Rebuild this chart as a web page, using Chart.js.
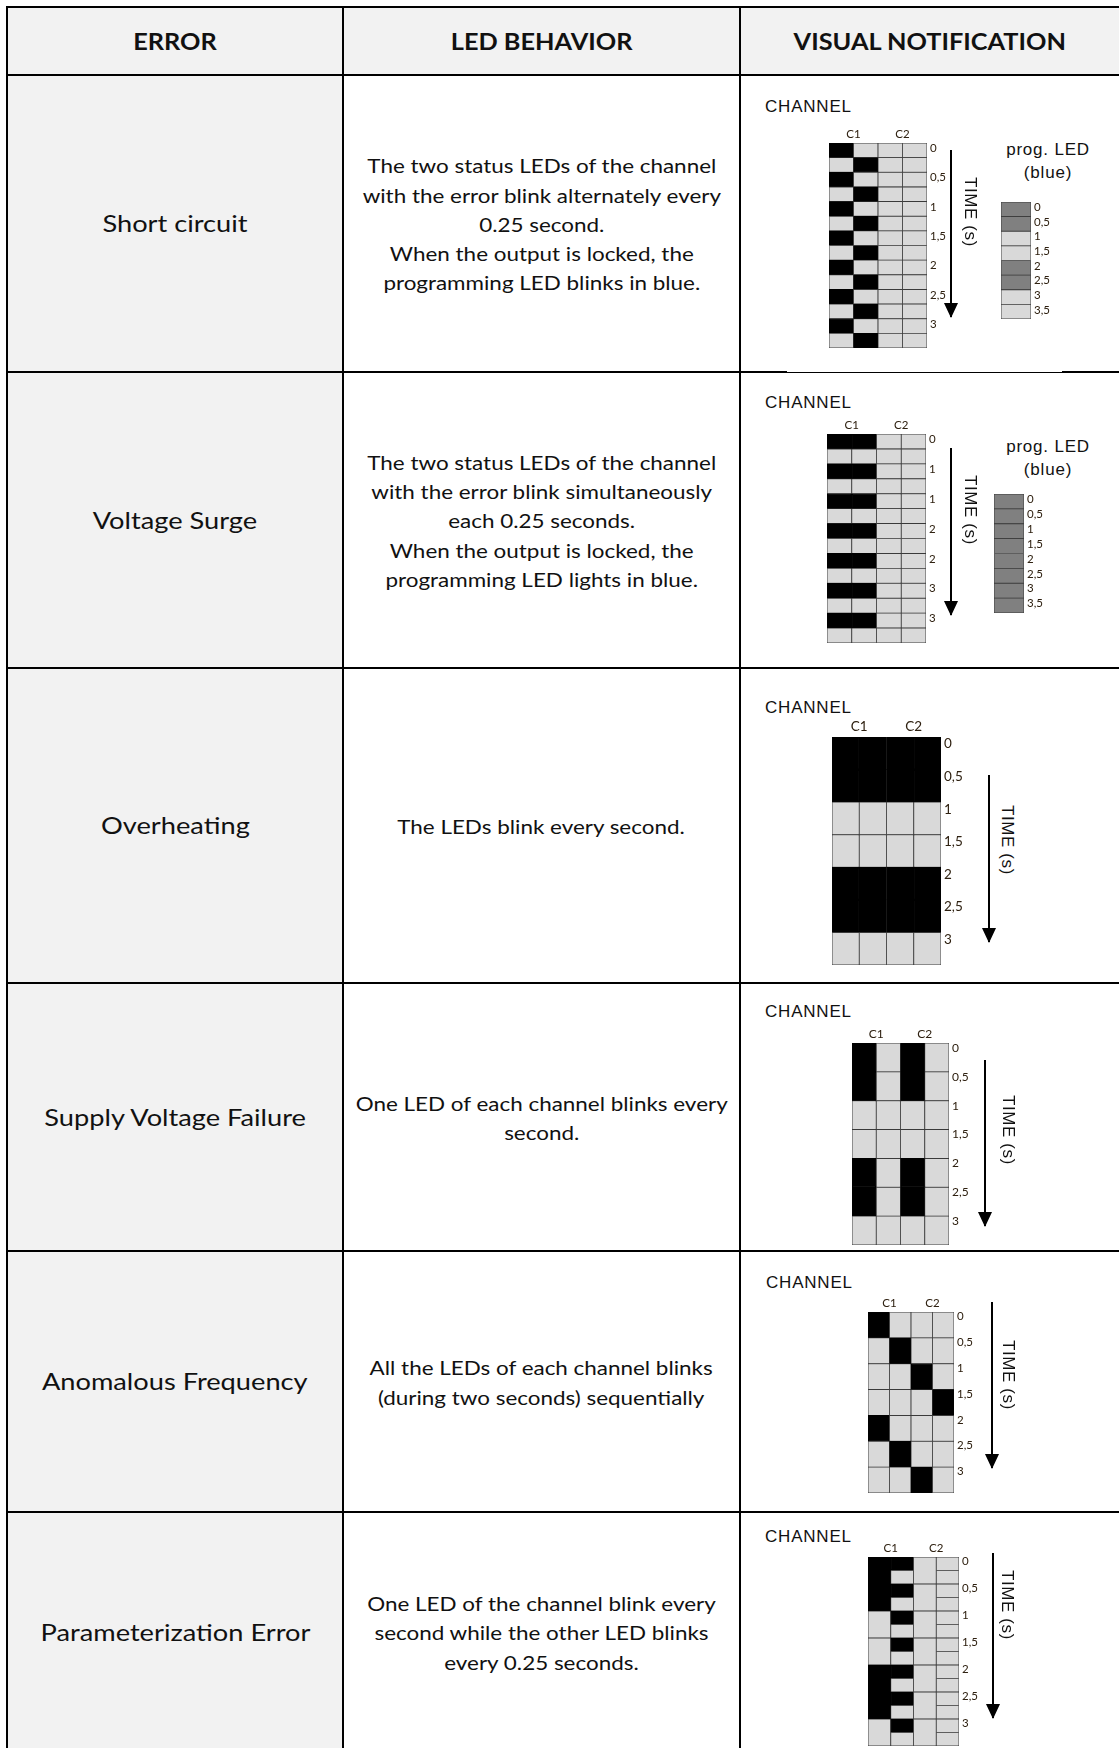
<!DOCTYPE html>
<html>
<head>
<meta charset="utf-8">
<script src="https://cdn.jsdelivr.net/npm/chart.js@4.4.1/dist/chart.umd.min.js"></script>
<style>
  html, body { margin: 0; padding: 0; background: #fff; }
  #page { position: relative; width: 1119px; height: 1748px; overflow: hidden; font-family: Lato, "Open Sans", sans-serif; color: #111; }
  .bg { position: absolute; background: #f2f2f2; }
  .hl { position: absolute; height: 2px; background: #000; }
  .vl { position: absolute; width: 2px; background: #000; }
  .cell { position: absolute; display: flex; align-items: center; justify-content: center; text-align: center; }
  .cell > div { white-space: nowrap; }
  .head { font-weight: bold; font-size: 23px; }
  .head > div { transform: scaleX(1.1); }
  .name { font-size: 22.5px; }
  .name > div { transform: scaleX(1.21); }
  .desc { font-size: 19.5px; line-height: 29.3px; padding-top: 2px; box-sizing: border-box; }
  .desc > div { transform: scaleX(1.15); }
  .lbl { position: absolute; font-family: "Liberation Sans", Arial, sans-serif; font-size: 17px; letter-spacing: 0.8px; color: #111; white-space: nowrap; line-height: 20px; }
  .time { position: absolute; font-family: "Liberation Sans", Arial, sans-serif; font-size: 17px; letter-spacing: 0.6px; writing-mode: vertical-rl; line-height: 20px; white-space: nowrap; transform: translate(-50%, -50%); }
  .arrow { position: absolute; width: 2px; background: #000; }
  .arrow::after { content: ""; position: absolute; left: -6px; bottom: -1px; border-left: 7px solid transparent; border-right: 7px solid transparent; border-top: 15px solid #000; }
  canvas { position: absolute; }
</style>
</head>
<body>
<div id="page">
  <!-- fondos grises -->
  <div class="bg" style="left:7px;top:7px;width:1112px;height:68px"></div>
  <div class="bg" style="left:7px;top:75px;width:336px;height:1673px"></div>

  <!-- cabecera -->
  <div class="cell head" style="left:7px;top:7px;width:336px;height:68px"><div>ERROR</div></div>
  <div class="cell head" style="left:343px;top:7px;width:397px;height:68px"><div>LED BEHAVIOR</div></div>
  <div class="cell head" style="left:740px;top:7px;width:379px;height:68px"><div>VISUAL NOTIFICATION</div></div>

  <!-- lineas de la tabla -->
  <div class="hl" style="left:6px;top:6px;width:1113px"></div>
  <div class="hl" style="left:6px;top:74px;width:1113px"></div>
  <div class="hl" style="left:6px;top:371px;width:781px"></div>
  <div class="hl" style="left:786px;top:372px;width:276px;height:1px"></div>
  <div class="hl" style="left:1062px;top:371px;width:57px"></div>
  <div class="hl" style="left:6px;top:667px;width:1113px"></div>
  <div class="hl" style="left:6px;top:982px;width:1113px"></div>
  <div class="hl" style="left:6px;top:1250px;width:1113px"></div>
  <div class="hl" style="left:6px;top:1511px;width:1113px"></div>
  <div class="vl" style="left:6px;top:6px;height:1742px"></div>
  <div class="vl" style="left:342px;top:6px;height:1742px"></div>
  <div class="vl" style="left:739px;top:6px;height:1742px"></div>
</div>

<script>
// Tabla de errores
const errorNames = ['Short circuit', 'Voltage Surge', 'Overheating', 'Supply Voltage Failure', 'Anomalous Frequency', 'Parameterization Error'];
const errorTexts = [
  'The two status LEDs of the channel<br>with the error blink alternately every<br>0.25 second.<br>When the output is locked, the<br>programming LED blinks in blue.',
  'The two status LEDs of the channel<br>with the error blink simultaneously<br>each 0.25 seconds.<br>When the output is locked, the<br>programming LED lights in blue.',
  'The LEDs blink every second.',
  'One LED of each channel blinks every<br>second.',
  'All the LEDs of each channel blinks<br>(during two seconds) sequentially',
  'One LED of the channel blink every<br>second while the other LED blinks<br>every 0.25 seconds.'
];
const rowTops = [75, 372, 668, 983, 1251, 1512];
const rowBottoms = [372, 668, 983, 1251, 1512, 1752];

// etiquetas de ejes
const channelLabels = ['C1', 'C2'];
const timeLabels = ['0', '0,5', '1', '1,5', '2', '2,5', '3'];
const surgeTimeLabels = ['0', '1', '1', '2', '2', '3', '3'];
const progLabels = ['0', '0,5', '1', '1,5', '2', '2,5', '3', '3,5'];

// estado de cada LED (1 = encendido, 0 = apagado), de arriba a abajo
const shortC1a = [1, 0, 1, 0, 1, 0, 1, 0, 1, 0, 1, 0, 1, 0];
const shortC1b = [0, 1, 0, 1, 0, 1, 0, 1, 0, 1, 0, 1, 0, 1];
const shortC2a = [0, 0, 0, 0, 0, 0, 0, 0, 0, 0, 0, 0, 0, 0];
const shortC2b = [0, 0, 0, 0, 0, 0, 0, 0, 0, 0, 0, 0, 0, 0];
const shortProg = [1, 1, 0, 0, 1, 1, 0, 0];

const surgeC1a = [1, 0, 1, 0, 1, 0, 1, 0, 1, 0, 1, 0, 1, 0];
const surgeC1b = [1, 0, 1, 0, 1, 0, 1, 0, 1, 0, 1, 0, 1, 0];
const surgeC2a = [0, 0, 0, 0, 0, 0, 0, 0, 0, 0, 0, 0, 0, 0];
const surgeC2b = [0, 0, 0, 0, 0, 0, 0, 0, 0, 0, 0, 0, 0, 0];
const surgeProg = [1, 1, 1, 1, 1, 1, 1, 1];

const heatC1a = [1, 1, 0, 0, 1, 1, 0];
const heatC1b = [1, 1, 0, 0, 1, 1, 0];
const heatC2a = [1, 1, 0, 0, 1, 1, 0];
const heatC2b = [1, 1, 0, 0, 1, 1, 0];

const supplyC1a = [1, 1, 0, 0, 1, 1, 0];
const supplyC1b = [0, 0, 0, 0, 0, 0, 0];
const supplyC2a = [1, 1, 0, 0, 1, 1, 0];
const supplyC2b = [0, 0, 0, 0, 0, 0, 0];

const freqC1a = [1, 0, 0, 0, 1, 0, 0];
const freqC1b = [0, 1, 0, 0, 0, 1, 0];
const freqC2a = [0, 0, 1, 0, 0, 0, 1];
const freqC2b = [0, 0, 0, 1, 0, 0, 0];

const paramC1a = [1, 1, 0, 0, 1, 1, 0];
const paramC1b = [1, 0, 1, 0, 1, 0, 1, 0, 1, 0, 1, 0, 1, 0];
const paramC2a = [0, 0, 0, 0, 0, 0, 0];
const paramC2b = [0, 0, 0, 0, 0, 0, 0, 0, 0, 0, 0, 0, 0, 0];

const page = document.getElementById('page');

// filas de texto
errorNames.forEach(function(name, i) {
    const h = rowBottoms[i] - rowTops[i];
    page.insertAdjacentHTML('afterbegin',
        '<div class="cell name" style="left:7px;top:' + rowTops[i] + 'px;width:336px;height:' + h + 'px"><div>' + name + '</div></div>' +
        '<div class="cell desc" style="left:343px;top:' + rowTops[i] + 'px;width:397px;height:' + h + 'px"><div>' + errorTexts[i] + '</div></div>');
});
// los fondos van detras del texto
page.querySelectorAll('.bg').forEach(function(b) { page.insertBefore(b, page.firstChild); });

function addText(cls, text, x, y, center) {
    const d = document.createElement('div');
    d.className = cls;
    d.textContent = text;
    d.style.left = x + 'px';
    d.style.top = y + 'px';
    if (center) d.style.transform = 'translate(-50%, -50%)';
    page.appendChild(d);
    return d;
}

function addArrow(x, top, tip) {
    const a = document.createElement('div');
    a.className = 'arrow';
    a.style.left = (x - 1) + 'px';
    a.style.top = top + 'px';
    a.style.height = (tip - top) + 'px';
    page.appendChild(a);
}

const ledColors = { on: '#000000', off: '#d9d9d9', prog: '#808080' };

// dibuja una rejilla de LEDs: cada celda es una barra flotante [inicio, fin] en el tiempo
function ledChart(opt) {
    const cols = opt.columns;
    const cells = [];
    cols.forEach(function(states, c) {
        const dur = opt.total / states.length;
        states.forEach(function(s, j) {
            cells.push({ x: c + 0.5, y: [j * dur, (j + 1) * dur], on: s });
        });
    });

    const top = opt.showChannels ? 16 : 0;
    const right = 30;
    const canvas = document.createElement('canvas');
    canvas.width = opt.w + right;
    canvas.height = opt.h + top;
    canvas.style.left = opt.left + 'px';
    canvas.style.top = (opt.top - top) + 'px';
    page.appendChild(canvas);

    const tickFont = { family: 'Lato, "Open Sans", sans-serif', size: opt.fontSize || 12 };
    const tickColor = '#2e2010';

    return new Chart(canvas, {
        type: 'bar',
        data: {
            datasets: [{
                data: cells,
                backgroundColor: function(ctx) {
                    if (!ctx.raw || !ctx.raw.on) return ledColors.off;
                    return opt.prog ? ledColors.prog : ledColors.on;
                },
                borderColor: function(ctx) {
                    if (ctx.raw && ctx.raw.on && !opt.prog) return '#000000';
                    return '#3a3a3a';
                },
                borderWidth: 0.8,
                borderSkipped: false,
                grouped: false,
                barThickness: opt.w / cols.length,
                barPercentage: 1,
                categoryPercentage: 1
            }]
        },
        options: {
            responsive: false,
            animation: false,
            events: [],
            layout: { padding: 0 },
            plugins: { legend: { display: false }, tooltip: { enabled: false } },
            scales: {
                x: {
                    type: 'linear',
                    position: 'top',
                    offset: false,
                    min: 0,
                    max: cols.length,
                    display: true,
                    grid: { display: false, drawTicks: false, offset: false },
                    border: { display: false },
                    afterBuildTicks: function(ax) {
                        ax.ticks = opt.showChannels ? [{ value: 1 }, { value: 3 }] : [];
                    },
                    ticks: {
                        autoSkip: false,
                        maxRotation: 0,
                        padding: 2,
                        font: tickFont,
                        color: tickColor,
                        callback: function(v, i) { return channelLabels[i]; }
                    },
                    afterFit: function(ax) {
                        ax.height = top;
                        ax.paddingLeft = 0; ax.paddingRight = 0;
                    }
                },
                y: {
                    type: 'linear',
                    position: 'right',
                    reverse: true,
                    min: 0,
                    max: opt.total,
                    grid: { display: false, drawTicks: false },
                    border: { display: false },
                    afterBuildTicks: function(ax) {
                        ax.ticks = opt.labels.map(function(l, i) { return { value: i * opt.step }; });
                    },
                    ticks: {
                        autoSkip: false,
                        padding: 3,
                        labelOffset: opt.labelOffset || 5,
                        font: tickFont,
                        color: tickColor,
                        callback: function(v, i) { return opt.labels[i]; }
                    },
                    afterFit: function(ax) {
                        ax.width = right;
                        ax.paddingTop = 0; ax.paddingBottom = 0;
                    }
                }
            }
        }
    });
}

// Short circuit
addText('lbl', 'CHANNEL', 765, 97);
ledChart({ left: 829, top: 143, w: 98, h: 205, total: 3.5, step: 0.5, labels: timeLabels, showChannels: true, labelOffset: 5.5, fontSize: 11.5,
    columns: [shortC1a, shortC1b, shortC2a, shortC2b] });
addArrow(951, 150, 317);
addText('time', 'TIME (s)', 970, 212);
addText('lbl', 'prog. LED', 1048, 150, true);
addText('lbl', '(blue)', 1048, 173, true);
ledChart({ left: 1001, top: 202, w: 30, h: 117, total: 4, step: 0.5, labels: progLabels, showChannels: false, prog: true, labelOffset: 5.5, fontSize: 11.5,
    columns: [shortProg] });

// Voltage Surge
addText('lbl', 'CHANNEL', 765, 393);
ledChart({ left: 827, top: 434, w: 99, h: 209, total: 3.5, step: 0.5, labels: surgeTimeLabels, showChannels: true, labelOffset: 5.5, fontSize: 11.5,
    columns: [surgeC1a, surgeC1b, surgeC2a, surgeC2b] });
addArrow(951, 448, 615);
addText('time', 'TIME (s)', 970, 510);
addText('lbl', 'prog. LED', 1048, 447, true);
addText('lbl', '(blue)', 1048, 470, true);
ledChart({ left: 994, top: 494, w: 30, h: 119, total: 4, step: 0.5, labels: progLabels, showChannels: false, prog: true, labelOffset: 5.5, fontSize: 11.5,
    columns: [surgeProg] });

// Overheating
addText('lbl', 'CHANNEL', 765, 698);
ledChart({ left: 832, top: 737, w: 109, h: 228, total: 3.5, step: 0.5, labels: timeLabels, showChannels: true, labelOffset: 7, fontSize: 13.5,
    columns: [heatC1a, heatC1b, heatC2a, heatC2b] });
addArrow(989, 775, 942);
addText('time', 'TIME (s)', 1007, 840);

// Supply Voltage Failure
addText('lbl', 'CHANNEL', 765, 1002);
ledChart({ left: 852, top: 1043, w: 97, h: 202, total: 3.5, step: 0.5, labels: timeLabels, showChannels: true, labelOffset: 5, fontSize: 12,
    columns: [supplyC1a, supplyC1b, supplyC2a, supplyC2b] });
addArrow(985, 1060, 1226);
addText('time', 'TIME (s)', 1008, 1130);

// Anomalous Frequency
addText('lbl', 'CHANNEL', 766, 1273);
ledChart({ left: 868, top: 1312, w: 86, h: 181, total: 3.5, step: 0.5, labels: timeLabels, showChannels: true, labelOffset: 4.5, fontSize: 11.5,
    columns: [freqC1a, freqC1b, freqC2a, freqC2b] });
addArrow(992, 1302, 1468);
addText('time', 'TIME (s)', 1008, 1375);

// Parameterization Error
addText('lbl', 'CHANNEL', 765, 1527);
ledChart({ left: 868, top: 1557, w: 91, h: 189, total: 3.5, step: 0.5, labels: timeLabels, showChannels: true, labelOffset: 4.5, fontSize: 11.5,
    columns: [paramC1a, paramC1b, paramC2a, paramC2b] });
addArrow(993, 1553, 1718);
addText('time', 'TIME (s)', 1007, 1605);
</script>
</body>
</html>
